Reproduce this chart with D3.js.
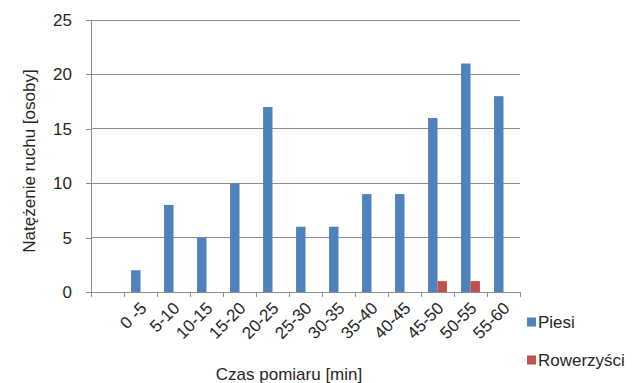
<!DOCTYPE html>
<html>
<head>
<meta charset="utf-8">
<script src="https://cdn.jsdelivr.net/npm/d3@7"></script>
<style>
  html, body { margin: 0; padding: 0; background: #fff; }
  text { font-family: "Liberation Sans", Arial, sans-serif; fill: #262626; }
</style>
</head>
<body>
<svg id="chart" width="637" height="383"></svg>
<script>
// Time intervals of the count (first slot is left blank on the axis)
const categories = ["", "0 -5", "5-10", "10-15", "15-20", "20-25", "25-30", "30-35", "35-40", "40-45", "45-50", "50-55", "55-60"];
// Counts per interval
const piesi      = [null, 2, 8, 5, 10, 17, 6, 6, 9, 9, 16, 21, 18];
const rowerzysci = [null, 0, 0, 0, 0, 0, 0, 0, 0, 0, 1, 1, 0];
const seriesNames = ["Piesi", "Rowerzyści"];
const seriesColors = ["#4F81BD", "#C0504D"];
const yTicks = [0, 5, 10, 15, 20, 25];

const FONT = "17px";
const svg = d3.select("#chart");
const plot = { left: 91, right: 520, top: 20, bottom: 292 };

const x = d3.scaleBand().domain(categories.map((c, i) => i)).range([plot.left, plot.right]).padding(0);
const y = d3.scaleLinear().domain([0, 25]).range([plot.bottom, plot.top]);

const barW = x.bandwidth() / 3.5;
const inner = d3.scaleBand().domain([0, 1]).range([0.75 * barW, 2.75 * barW]).padding(0);

// Horizontal gridlines
svg.append("g").selectAll("line").data(yTicks.filter(d => d > 0)).join("line")
  .attr("x1", plot.left).attr("x2", plot.right)
  .attr("y1", d => y(d)).attr("y2", d => y(d))
  .attr("stroke", "#8c8c8c").attr("stroke-width", 1).attr("shape-rendering", "crispEdges");

// Bars
const seriesData = [piesi, rowerzysci];
seriesData.forEach((vals, s) => {
  svg.append("g").selectAll("rect")
    .data(vals.map((v, i) => ({ v, i })).filter(d => d.v))
    .join("rect")
    .attr("x", d => x(d.i) + inner(s))
    .attr("width", inner.bandwidth())
    .attr("y", d => y(d.v))
    .attr("height", d => y(0) - y(d.v))
    .attr("fill", seriesColors[s]);
});

// Y axis
const yAxis = d3.axisLeft(y).tickValues(yTicks).tickSize(5).tickPadding(14).tickFormat(d3.format("d"));
const gy = svg.append("g").attr("transform", `translate(${plot.left},0)`).call(yAxis);
gy.selectAll("path, line").attr("stroke", "#8c8c8c").attr("shape-rendering", "crispEdges");
gy.select(".domain").attr("d", `M0,${plot.bottom}V${plot.top}`);
gy.selectAll("text").style("font-size", FONT).attr("font-family", "Liberation Sans, Arial, sans-serif").attr("fill", "#262626");

// X axis with ticks on slot boundaries
const boundaries = d3.range(categories.length + 1).map(i => plot.left + i * x.bandwidth());
const gx = svg.append("g");
gx.append("line").attr("x1", plot.left).attr("x2", plot.right)
  .attr("y1", plot.bottom).attr("y2", plot.bottom)
  .attr("stroke", "#8c8c8c").attr("shape-rendering", "crispEdges");
gx.selectAll("line.tick").data(boundaries).join("line").attr("class", "tick")
  .attr("x1", d => d).attr("x2", d => d)
  .attr("y1", plot.bottom).attr("y2", plot.bottom + 5)
  .attr("stroke", "#8c8c8c").attr("shape-rendering", "crispEdges");
gx.selectAll("text").data(categories.map((c, i) => ({ c, i }))).join("text")
  .attr("transform", d => `translate(${x(d.i) + x.bandwidth() / 2 + 3},${plot.bottom + 13}) rotate(-45)`)
  .attr("text-anchor", "end")
  .attr("dy", "0.35em")
  .style("font-size", FONT)
  .text(d => d.c);

// Axis titles
svg.append("text")
  .attr("transform", `translate(35,161) rotate(-90)`)
  .attr("text-anchor", "middle")
  .style("font-size", FONT)
  .text("Natężenie ruchu [osoby]");

svg.append("text")
  .attr("x", 289).attr("y", 380)
  .attr("text-anchor", "middle")
  .style("font-size", FONT)
  .text("Czas pomiaru [min]");

// Legend
const legend = svg.append("g").selectAll("g").data(seriesNames).join("g")
  .attr("transform", (d, i) => `translate(527,${322 + i * 38})`);
legend.append("rect").attr("x", 0).attr("y", -4.5).attr("width", 9).attr("height", 9)
  .attr("fill", (d, i) => seriesColors[i]);
legend.append("text").attr("x", 11).attr("y", 0).attr("dy", "0.35em")
  .style("font-size", FONT).text(d => d);
</script>
</body>
</html>
